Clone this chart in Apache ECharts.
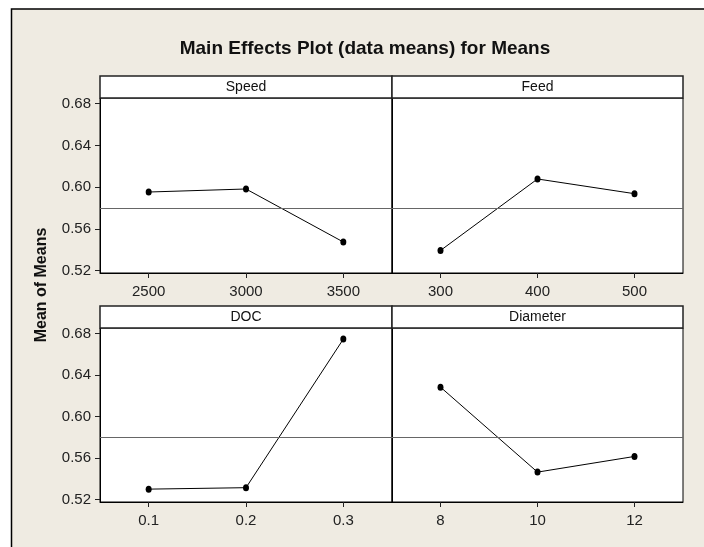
<!DOCTYPE html>
<html>
<head>
<meta charset="utf-8">
<script src="https://cdn.jsdelivr.net/npm/echarts@6/dist/echarts.min.js"></script>
<style>
html,body{margin:0;padding:0;background:#fff;}
#c{width:704px;height:547px;}
</style>
</head>
<body>
<div id="c"></div>
<script>
// ---- data ----
const factorNames = ['Speed', 'Feed', 'DOC', 'Diameter'];
const speedLevels = ['2500', '3000', '3500'];
const speedMeans = [0.5954, 0.5983, 0.5475];
const feedLevels = ['300', '400', '500'];
const feedMeans = [0.5394, 0.6079, 0.5938];
const docLevels = ['0.1', '0.2', '0.3'];
const docMeans = [0.5302, 0.5316, 0.6748];
const diameterLevels = ['8', '10', '12'];
const diameterMeans = [0.6285, 0.5466, 0.5617];
const grandMean = 0.5804;
const yTickValues = [0.52, 0.56, 0.60, 0.64, 0.68];
const yMin = 0.5178, yMax = 0.6855;

const levels = [speedLevels, feedLevels, docLevels, diameterLevels];
const means = [speedMeans, feedMeans, docMeans, diameterMeans];

// ---- layout ----
const FONT = '"Liberation Sans", Arial, sans-serif';
const panels = [
  {left: 100, top: 98, width: 292, height: 175},
  {left: 392, top: 98, width: 291, height: 175},
  {left: 100, top: 328, width: 292, height: 174},
  {left: 392, top: 328, width: 291, height: 174}
];
const stripH = 22;

const grids = [], xAxes = [], yAxes = [], series = [], graphics = [];

graphics.push({
  type: 'rect', z: -10, silent: true,
  shape: {x: 11.5, y: 9, width: 720, height: 560},
  style: {fill: '#EFEBE2', stroke: '#000', lineWidth: 1.5}
});
graphics.push({
  type: 'text', x: 365, y: 49, silent: true,
  style: {text: 'Main Effects Plot (data means) for Means', font: 'bold 19px ' + FONT,
          fill: '#111', align: 'center', verticalAlign: 'middle'}
});
graphics.push({
  type: 'text', x: 42, y: 285, rotation: Math.PI / 2, silent: true,
  style: {text: 'Mean of Means', font: 'bold 16px ' + FONT, fill: '#111',
          align: 'center', verticalAlign: 'middle'}
});

panels.forEach((p, i) => {
  const isLeft = (i % 2 === 0);
  grids.push({left: p.left, top: p.top, width: p.width, height: p.height,
              show: true, backgroundColor: '#fff', borderColor: '#000', borderWidth: 1});
  xAxes.push({
    type: 'category', gridIndex: i, data: levels[i], boundaryGap: true,
    axisLine: {show: true, lineStyle: {color: '#000', width: 1}},
    axisTick: {show: true, alignWithLabel: true, length: 5, lineStyle: {color: '#222'}},
    axisLabel: {fontSize: 15, color: '#222', margin: 11, fontFamily: FONT},
    splitLine: {show: false}
  });
  yAxes.push({
    type: 'value', gridIndex: i, min: yMin, max: yMax,
    axisLine: {show: true, lineStyle: {color: '#000', width: 1}},
    axisTick: {show: isLeft, length: 5, customValues: yTickValues, lineStyle: {color: '#222'}},
    axisLabel: {show: isLeft, fontSize: 15, color: '#222', margin: 9, fontFamily: FONT,
                customValues: yTickValues, formatter: v => v.toFixed(2)},
    splitLine: {show: false}
  });
  series.push({
    type: 'line', xAxisIndex: i, yAxisIndex: i, data: means[i],
    symbol: 'circle', symbolSize: [6, 7], itemStyle: {color: '#000'},
    lineStyle: {color: '#000', width: 1}, silent: true, animation: false,
    markLine: {silent: true, symbol: 'none', label: {show: false}, animation: false,
               lineStyle: {color: '#666', width: 1, type: 'solid'},
               data: [{yAxis: grandMean}]}
  });
  graphics.push({
    type: 'rect', silent: true, z: 10,
    shape: {x: p.left, y: p.top - stripH, width: p.width, height: stripH},
    style: {fill: '#fff', stroke: '#222', lineWidth: 1.5}
  });
  graphics.push({
    type: 'text', silent: true, z: 11, x: p.left + p.width / 2, y: p.top - stripH / 2,
    style: {text: factorNames[i], font: '14px ' + FONT, fill: '#111',
            align: 'center', verticalAlign: 'middle'}
  });
});

const chart = echarts.init(document.getElementById('c'), null, {renderer: 'canvas'});
chart.setOption({
  backgroundColor: '#fff',
  animation: false,
  grid: grids, xAxis: xAxes, yAxis: yAxes, series: series,
  graphic: graphics
});
</script>
</body>
</html>
